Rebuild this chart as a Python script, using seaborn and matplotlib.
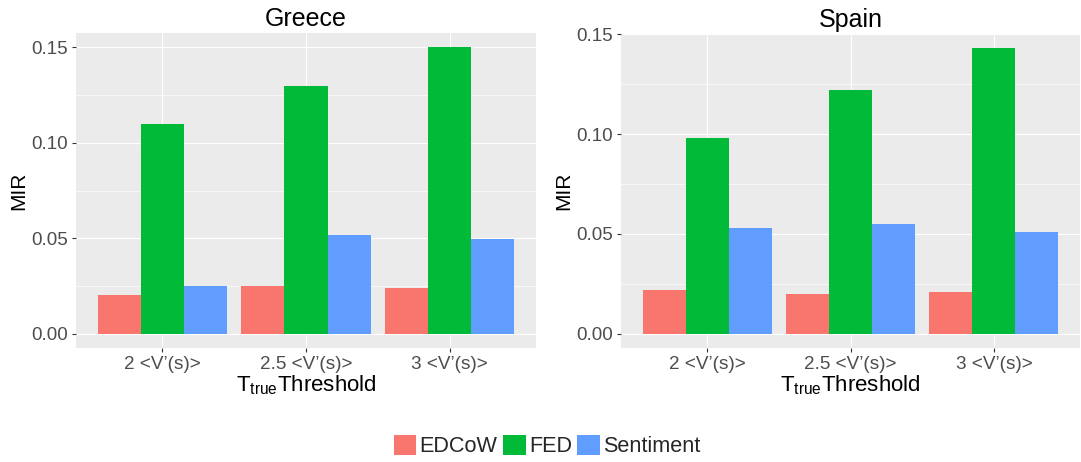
import numpy as np
import pandas as pd
import matplotlib
matplotlib.use("Agg")
import matplotlib.pyplot as plt
import seaborn as sns
from matplotlib.patches import Patch
from matplotlib.ticker import MultipleLocator, FixedLocator

# ---- data ----
thresholds = ["2 <V\u2019(s)>", "2.5 <V\u2019(s)>", "3 <V\u2019(s)>"]
methods = ["EDCoW", "FED", "Sentiment"]
greece_edcow = [0.0205, 0.025, 0.024]
greece_fed = [0.110, 0.130, 0.150]
greece_sentiment = [0.025, 0.0515, 0.0495]
spain_edcow = [0.022, 0.020, 0.021]
spain_fed = [0.098, 0.122, 0.143]
spain_sentiment = [0.053, 0.055, 0.051]
countries = ["Greece", "Spain"]

colors = ["#F8766D", "#00BA38", "#619CFF"]

def make_df(ed, fed, sen):
    rows = []
    for i, t in enumerate(thresholds):
        rows.append((t, "EDCoW", ed[i]))
        rows.append((t, "FED", fed[i]))
        rows.append((t, "Sentiment", sen[i]))
    return pd.DataFrame(rows, columns=["threshold", "method", "MIR"])

dfs = [make_df(greece_edcow, greece_fed, greece_sentiment),
       make_df(spain_edcow, spain_fed, spain_sentiment)]

sns.set_theme(style="white")
plt.rcParams['font.family'] = ['Liberation Sans', 'DejaVu Sans']
plt.rcParams['mathtext.fontset'] = 'custom'
plt.rcParams['mathtext.rm'] = 'Liberation Sans'
plt.rcParams['mathtext.it'] = 'Liberation Sans'

W, H = 1081, 462
fig = plt.figure(figsize=(W / 100, H / 100), dpi=100)

panels = [(76, 33, 536, 348), (621, 34, 1080, 348)]

for k, (df, country) in enumerate(zip(dfs, countries)):
    x0, y0, x1, y1 = panels[k]
    ax = fig.add_axes([x0 / W, 1 - y1 / H, (x1 - x0) / W, (y1 - y0) / H])
    ax.set_facecolor("#EBEBEB")
    sns.barplot(data=df, x="threshold", y="MIR", hue="method",
                hue_order=methods, order=thresholds, palette=colors,
                width=0.9, gap=0, legend=False, ax=ax, saturation=1,
                errorbar=None, linewidth=0, zorder=3)
    ymax = df["MIR"].max()
    ax.set_ylim(-0.05 * ymax, 1.05 * ymax)
    ax.set_xlim(-0.6, 2.6)
    ax.yaxis.set_major_locator(FixedLocator([0, 0.05, 0.10, 0.15]))
    ax.set_yticklabels(["0.00", "0.05", "0.10", "0.15"])
    ax.yaxis.set_minor_locator(FixedLocator([0.025, 0.075, 0.125]))
    ax.grid(which="major", color="white", linewidth=0.85, zorder=0)
    ax.grid(which="minor", axis="y", color="white", linewidth=0.45, zorder=0)
    ax.set_axisbelow(True)
    for s in ax.spines.values():
        s.set_visible(False)
    ax.tick_params(axis="both", which="major", length=3.2, width=0.8,
                   color="#333333", labelcolor="#4D4D4D", labelsize=13.6,
                   pad=2.5, bottom=True, left=True)
    ax.tick_params(axis="both", which="minor", length=0)
    ax.set_ylabel("MIR", fontsize=15, color="black", labelpad=2)
    ax.set_xlabel(r"$\mathregular{T_{true}}$Threshold", fontsize=16,
                  color="black", labelpad=0)
    ax.set_title(country, fontsize=18, color="black", pad=5)

handles = [Patch(facecolor=c, edgecolor="none") for c in colors]
fig.legend(handles, methods, loc="center", bbox_to_anchor=(547 / W, 1 - 446 / H),
           ncol=3, frameon=False, fontsize=15.6, handlelength=1.05,
           handleheight=1.05, handletextpad=0.15, columnspacing=0.25,
           borderaxespad=0)

fig.savefig("out.png", dpi=100)
